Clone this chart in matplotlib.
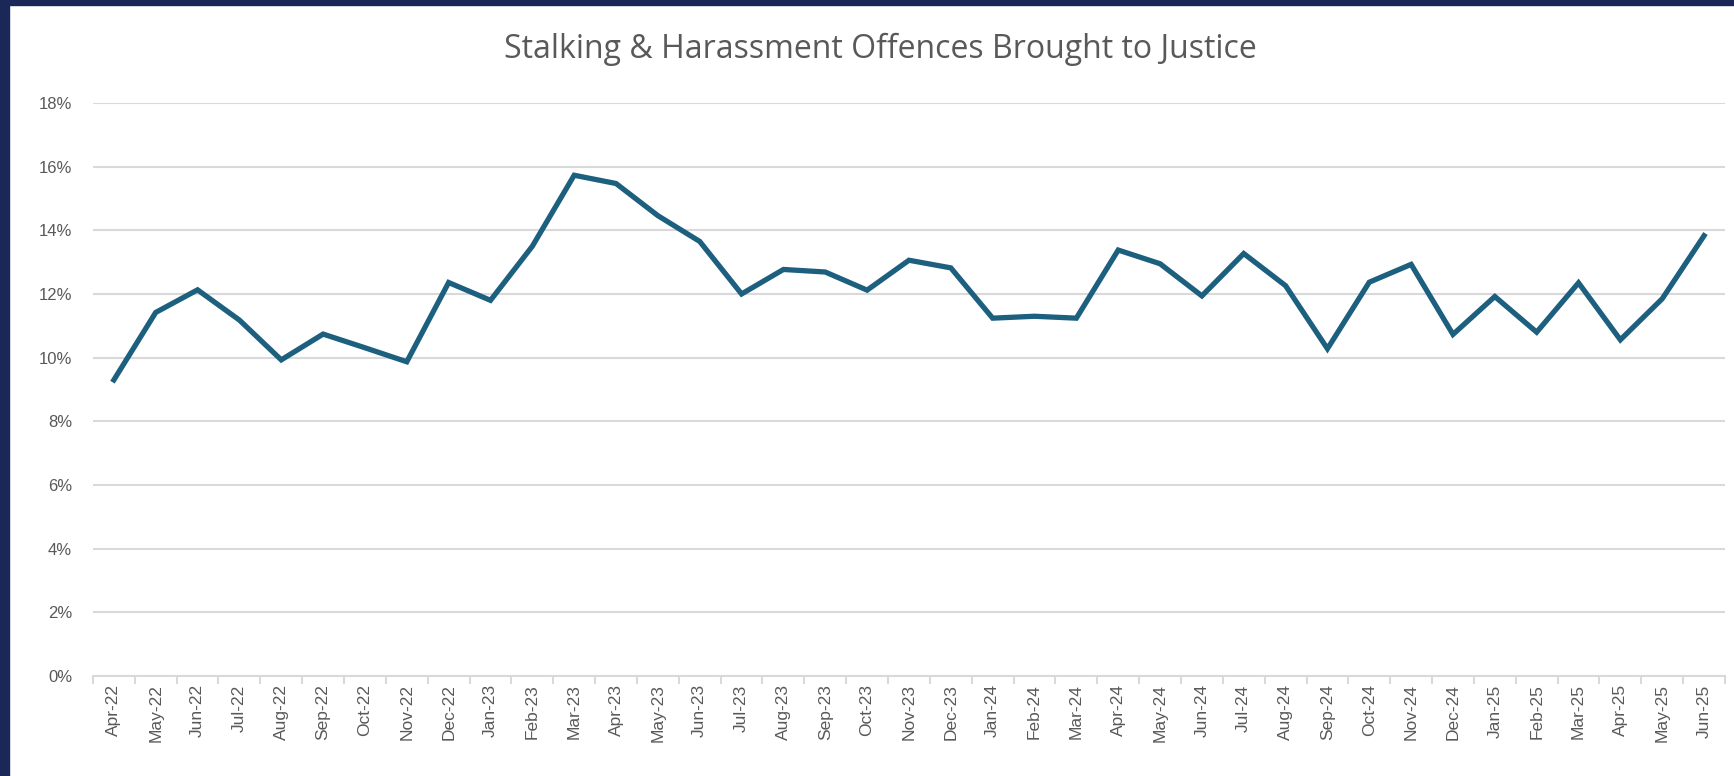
import numpy as np
import matplotlib.pyplot as plt
from matplotlib.ticker import FuncFormatter, FixedLocator
from matplotlib.patches import Rectangle

# monthly share of offences brought to justice (%)
months = ['Apr-22', 'May-22', 'Jun-22', 'Jul-22', 'Aug-22', 'Sep-22', 'Oct-22', 'Nov-22',
          'Dec-22', 'Jan-23', 'Feb-23', 'Mar-23', 'Apr-23', 'May-23', 'Jun-23', 'Jul-23',
          'Aug-23', 'Sep-23', 'Oct-23', 'Nov-23', 'Dec-23', 'Jan-24', 'Feb-24', 'Mar-24',
          'Apr-24', 'May-24', 'Jun-24', 'Jul-24', 'Aug-24', 'Sep-24', 'Oct-24', 'Nov-24',
          'Dec-24', 'Jan-25', 'Feb-25', 'Mar-25', 'Apr-25', 'May-25', 'Jun-25']
rate = [9.3, 11.42, 12.13, 11.18, 9.93, 10.74, 10.31, 9.87, 12.36, 11.8, 13.5, 15.73,
        15.47, 14.46, 13.65, 12.0, 12.77, 12.69, 12.12, 13.06, 12.82, 11.24, 11.3, 11.24,
        13.38, 12.95, 11.94, 13.27, 12.26, 10.28, 12.37, 12.93, 10.73, 11.92, 10.8, 12.35,
        10.56, 11.85, 13.83]

line_col = '#1d5f7f'
grid_col = '#d9d9d9'
text_col = '#595959'
navy = '#1b2758'

fig = plt.figure(figsize=(17.34, 7.76), dpi=100)
ax = fig.add_axes([0.0536, 0.1289, 0.9412, 0.7384])

x = np.arange(len(months))
ax.plot(x, np.array(rate) / 100, color=line_col, lw=3.8, solid_joinstyle='miter', zorder=3)

ax.set_xlim(-0.5, len(months) - 0.5)
ax.set_ylim(0, 0.18)
ax.set_yticks(np.arange(0, 0.181, 0.02))
ax.yaxis.set_major_formatter(FuncFormatter(lambda v, p: '{:.0f}%'.format(v * 100)))
ax.grid(axis='y', color=grid_col, lw=1.5, zorder=0)
ax.set_axisbelow(True)

ax.set_xticks(x)
ax.set_xticklabels(months, rotation=90)
ax.xaxis.set_minor_locator(FixedLocator(np.arange(-0.5, len(months), 1)))
ax.tick_params(axis='x', which='major', length=0, pad=6, labelsize=12.5, labelcolor=text_col)
ax.tick_params(axis='x', which='minor', length=6, width=1.5, color=grid_col)
ax.tick_params(axis='y', length=0, pad=15, labelsize=12, labelcolor=text_col)
for lab in ax.get_xticklabels() + ax.get_yticklabels():
    lab.set_family('Liberation Sans')

for s in ['top', 'right', 'left']:
    ax.spines[s].set_visible(False)
ax.spines['bottom'].set_color(grid_col)
ax.spines['bottom'].set_linewidth(1.5)

fig.text(0.508, 0.937, 'Stalking & Harassment Offences Brought to Justice',
         ha='center', va='center', fontsize=23, color=text_col, family='Open Sans')

# dark frame on the left and top edges
fig.patches.append(Rectangle((0, 0), 9 / 1734, 1, transform=fig.transFigure,
                             color=navy, zorder=10))
fig.patches.append(Rectangle((0, 1 - 5 / 776), 1, 5 / 776, transform=fig.transFigure,
                             color=navy, zorder=10))

fig.savefig('out.png', dpi=100)
